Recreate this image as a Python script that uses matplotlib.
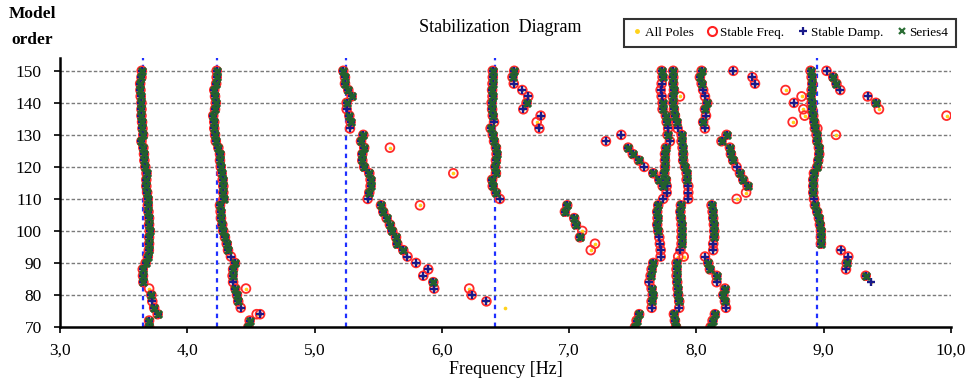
import matplotlib
matplotlib.use("Agg")
import matplotlib.pyplot as plt
from matplotlib.lines import Line2D

# ---------------- data ----------------
# status codes: 'x' = stable freq + damp + mode shape (Series4),
# '+' = stable freq + damp, 'o' = stable freq only, 'p' = stable damp only, 'a' = pole only
t1_orders = [150, 148, 146, 144, 142, 140, 138, 136, 134, 132, 130, 128, 126, 124, 122, 120, 118, 116, 114, 112,
             110, 108, 106, 104, 102, 100, 98, 96, 94, 92, 90, 88, 86, 84, 82, 80, 78, 76, 74, 72, 70]
t1_freqs = [3.642, 3.640, 3.630, 3.632, 3.634, 3.640, 3.640, 3.640, 3.645, 3.648,
            3.654, 3.640, 3.655, 3.660, 3.663, 3.670, 3.680, 3.678, 3.678, 3.685,
            3.690, 3.690, 3.695, 3.700, 3.700, 3.705, 3.700, 3.700, 3.698, 3.690,
            3.673, 3.650, 3.652, 3.655, 3.700, 3.718, 3.725, 3.740, 3.767, 3.700, 3.700]
t1_status = "xxxxxxxxxxxxxxxxxxxxxxxxxxxxxxxxxxox+xxxx"

t2_orders = [150, 148, 146, 144, 142, 140, 138, 136, 134, 132, 130, 128, 126, 124, 122, 120, 118, 116, 114, 112,
             110, 108, 106, 104, 102, 100, 98, 96, 94, 92, 90, 88, 86, 84, 82, 80, 78, 76, 72, 70]
t2_freqs = [4.231, 4.231, 4.227, 4.212, 4.218, 4.224, 4.218, 4.204, 4.212, 4.212,
            4.218, 4.224, 4.244, 4.257, 4.257, 4.263, 4.270, 4.278, 4.283, 4.283,
            4.285, 4.257, 4.262, 4.265, 4.275, 4.283, 4.296, 4.310, 4.320, 4.343,
            4.375, 4.360, 4.356, 4.360, 4.378, 4.390, 4.400, 4.420, 4.490, 4.480]
t2_status = "xxxxxxxxxxxxxxxxxxxxxxxxxxxxx+xxx+xxx+xx"

t3a_orders = [150, 148, 146, 144, 142, 140, 138, 136, 134, 132]
t3a_freqs = [5.226, 5.239, 5.239, 5.265, 5.291, 5.252, 5.252, 5.273, 5.283, 5.278]
t3a_status = "xxxxxx+xx+"

t3b_orders = [130, 128, 126, 124, 122, 120, 118, 116, 114, 112, 110]
t3b_freqs = [5.383, 5.365, 5.390, 5.375, 5.375, 5.390, 5.430, 5.440, 5.440, 5.430, 5.417]
t3b_status = "xxxxxxxxxx+"

t3c_orders = [108, 106, 104, 102, 100, 98, 96, 94, 92, 90, 88, 86, 84, 82, 80, 78]
t3c_freqs = [5.522, 5.540, 5.566, 5.592, 5.610, 5.640, 5.650, 5.697, 5.730, 5.797, 5.893, 5.854, 5.933, 5.940,
             6.234, 6.350]
t3c_status = "xxxxxxxx++++x+++"

t4_orders = [150, 148, 146, 144, 142, 140, 138, 136, 134, 132, 130, 128, 126, 124, 122, 120, 118, 116, 114, 112, 110]
t4_freqs = [6.400, 6.400, 6.398, 6.395, 6.398, 6.391, 6.395, 6.400, 6.410, 6.383,
            6.400, 6.410, 6.425, 6.430, 6.425, 6.420, 6.425, 6.395, 6.400, 6.425, 6.455]
t4_status = "xxxxxxxx+xxxxxxxxxxx+"

t4b_orders = [150, 148, 146, 144, 142, 140, 138, 136, 134, 132]
t4b_freqs = [6.569, 6.555, 6.565, 6.632, 6.679, 6.666, 6.640, 6.776, 6.745, 6.766]
t4b_status = "xx+++x++o+"

t5_orders = [108, 106, 104, 102, 100, 98, 96, 94]
t5_freqs = [6.985, 6.967, 7.040, 7.053, 7.103, 7.085, 7.203, 7.170]
t5_status = "xxxxoxoo"

t6_orders = [130, 128, 126, 124, 122, 120, 118, 116, 114]
t6_freqs = [7.410, 7.289, 7.464, 7.500, 7.548, 7.590, 7.661, 7.708, 7.735]
t6_status = "++xxx+xxx"

ta_orders = [150, 148, 146, 144, 142, 140, 138, 136, 134, 132, 130, 128, 126, 124, 122, 120, 118, 116, 114, 112,
             110, 108, 106, 104, 102, 100, 98, 96, 94, 92, 90, 88, 86, 84, 82, 80, 78, 76, 74, 72, 70]
ta_freqs = [7.727, 7.734, 7.727, 7.719, 7.727, 7.734, 7.734, 7.760, 7.766, 7.778,
            7.773, 7.792, 7.760, 7.753, 7.753, 7.753, 7.748, 7.760, 7.766, 7.766,
            7.739, 7.700, 7.692, 7.695, 7.692, 7.700, 7.708, 7.713, 7.719, 7.719,
            7.661, 7.648, 7.640, 7.630, 7.648, 7.656, 7.648, 7.648, 7.550, 7.530, 7.517]
ta_status = "xx+++xxxx+x+xxxxxx+++xxxxx++++xxx+xxx+xxx"

tb_orders = [150, 148, 146, 144, 142, 140, 138, 136, 134, 132, 130, 128, 126, 124, 122, 120, 118, 116, 114, 112,
             110, 108, 106, 104, 102, 100, 98, 96, 94, 92, 90, 88, 86, 84, 82, 80, 78, 76, 74, 72, 70]
tb_freqs = [7.818, 7.818, 7.818, 7.823, 7.813, 7.818, 7.823, 7.831, 7.844, 7.852,
            7.883, 7.883, 7.891, 7.896, 7.896, 7.910, 7.923, 7.923, 7.936, 7.936,
            7.936, 7.878, 7.874, 7.878, 7.883, 7.883, 7.883, 7.883, 7.874, 7.857,
            7.844, 7.844, 7.844, 7.849, 7.852, 7.857, 7.865, 7.865, 7.823, 7.831, 7.840]
tb_status = "xxxxxxxxx+xxxxxxxx+++xxxxxxx+oxxxxxxx+xxx"

tc_orders = [150, 148, 146, 144, 142, 140, 138, 136, 134, 132]
tc_freqs = [8.041, 8.027, 8.041, 8.053, 8.067, 8.085, 8.067, 8.075, 8.053, 8.067]
tc_status = "xxx++xx+x+"

tc2_orders = [108, 106, 104, 102, 100, 98, 96, 94, 92, 90, 88, 86, 84, 82, 80, 78, 76, 74, 72, 70]
tc2_freqs = [8.119, 8.127, 8.132, 8.137, 8.140, 8.140, 8.132, 8.132,
             8.067, 8.093, 8.106, 8.158, 8.158, 8.224, 8.211, 8.224, 8.232, 8.145, 8.127, 8.111]
tc2_status = "xxxxxx+++xxx+xxx+xxx"

td_orders = [130, 128, 126, 124, 122, 120, 118, 116, 114, 112, 110]
td_freqs = [8.237, 8.197, 8.263, 8.271, 8.289, 8.315, 8.342, 8.368, 8.402, 8.390, 8.316]
td_status = "xxxxx+xxxoo"

te_orders = [150, 148, 146, 144, 142, 140, 138, 136, 134, 132, 130, 128, 126, 124, 122, 120, 118, 116, 114, 112,
             110, 108, 106, 104, 102, 100, 98, 96]
te_freqs = [8.897, 8.905, 8.910, 8.905, 8.897, 8.905, 8.910, 8.918, 8.926, 8.931,
            8.944, 8.949, 8.962, 8.965, 8.957, 8.949, 8.923, 8.918, 8.918, 8.918,
            8.923, 8.931, 8.949, 8.962, 8.970, 8.978, 8.978, 8.978]
te_status = "xxxxxxxxxxxxxxxxxxxx+xxxxxxx"

tf_orders = [150, 148, 146, 144, 142, 140, 138]
tf_freqs = [9.022, 9.075, 9.100, 9.130, 9.345, 9.410, 9.434]
tf_status = "+xx++xo"

tg_orders = [94, 92, 90, 88, 86, 84]
tg_freqs = [9.135, 9.193, 9.180, 9.175, 9.330, 9.370]
tg_status = "++x+xp"

# scattered poles
sc_orders = [82, 74, 74, 126, 118, 108, 82, 76, 142, 92, 150, 148, 146, 144, 142, 140, 138, 136, 134, 132, 130, 136]
sc_freqs = [4.461, 4.545, 4.572, 5.592, 6.090, 5.828, 6.215, 6.496, 7.870, 7.900,
            8.290, 8.440, 8.460, 8.700, 8.826, 8.766, 8.840, 8.850, 8.756, 8.950, 9.096, 9.965]
sc_status = "o o + o o o o a o o + + + o o + o o o o o o".split()

mode_freqs = [3.65, 4.23, 5.25, 6.42, 8.95]

x_ticks = [3, 4, 5, 6, 7, 8, 9, 10]
x_tick_labels = ["3,0", "4,0", "5,0", "6,0", "7,0", "8,0", "9,0", "10,0"]
y_ticks = [70, 80, 90, 100, 110, 120, 130, 140, 150]

tracks = [
    (t1_orders, t1_freqs, t1_status), (t2_orders, t2_freqs, t2_status),
    (t3a_orders, t3a_freqs, t3a_status), (t3b_orders, t3b_freqs, t3b_status),
    (t3c_orders, t3c_freqs, t3c_status), (t4_orders, t4_freqs, t4_status),
    (t4b_orders, t4b_freqs, t4b_status), (t5_orders, t5_freqs, t5_status),
    (t6_orders, t6_freqs, t6_status), (ta_orders, ta_freqs, ta_status),
    (tb_orders, tb_freqs, tb_status), (tc_orders, tc_freqs, tc_status),
    (tc2_orders, tc2_freqs, tc2_status), (td_orders, td_freqs, td_status),
    (te_orders, te_freqs, te_status), (tf_orders, tf_freqs, tf_status),
    (tg_orders, tg_freqs, tg_status), (sc_orders, sc_freqs, sc_status),
]

allx, ally, sfx, sfy, sdx, sdy, s4x, s4y = [], [], [], [], [], [], [], []
for orders, freqs, status in tracks:
    for o, f, s in zip(orders, freqs, status):
        allx.append(f); ally.append(o)
        if s in "xo+":
            sfx.append(f); sfy.append(o)
        if s in "x+p":
            sdx.append(f); sdy.append(o)
        if s == "x":
            s4x.append(f); s4y.append(o)

# ---------------- plot ----------------
SERIF = ["Liberation Serif", "DejaVu Serif"]
plt.rcParams["font.family"] = SERIF

fig = plt.figure(figsize=(9.68, 3.84), dpi=100)
ax = fig.add_axes([60 / 968, 1 - 327 / 384, (951 - 60) / 968, (327 - 58) / 384])

for y in y_ticks:
    if y > 70:
        ax.axhline(y, color="#7a7a7a", lw=1.0, ls=(0, (2.5, 1.5)), zorder=1)
for f in mode_freqs:
    ax.axvline(f, color="#1f2fff", lw=1.6, ls=(0, (2, 2)), zorder=2)

ax.scatter(allx, ally, s=7, marker="o", color="#ffd21a", linewidths=0, zorder=3, label="All Poles")
ax.scatter(sfx, sfy, s=40, marker="o", facecolors="none", edgecolors="#ff2a2a", linewidths=1.3, zorder=4,
           label="Stable Freq.")
ax.scatter(sdx, sdy, s=34, marker="+", color="#1a1a8a", linewidths=1.7, zorder=5, label="Stable Damp.")
ax.scatter(s4x, s4y, s=26, marker="x", color="#23602d", linewidths=2.2, zorder=6, label="Series4")

ax.set_xlim(3, 10)
ax.set_ylim(70, 154)
ax.set_xticks(x_ticks)
ax.set_xticklabels(x_tick_labels)
ax.set_yticks(y_ticks)
for sp in ["top", "right"]:
    ax.spines[sp].set_visible(False)
for sp in ["left", "bottom"]:
    ax.spines[sp].set_linewidth(1.8)
    ax.spines[sp].set_zorder(7)
ax.tick_params(axis="both", direction="out", length=4, width=1.2, labelsize=12.5)
ax.tick_params(axis="x", pad=7)
ax.tick_params(axis="y", pad=9)

ax.set_xlabel("Frequency [Hz]", fontsize=13, labelpad=2)
fig.text(500 / 968, 1 - 28 / 384, "Stabilization  Diagram", ha="center", va="center", fontsize=13)
fig.text(32 / 968, 1 - 14 / 384, "Model", ha="center", va="center", fontsize=12.5, fontweight="bold")
fig.text(32 / 968, 1 - 40 / 384, "order", ha="center", va="center", fontsize=12.5, fontweight="bold")

handles = [
    Line2D([], [], ls="none", marker="o", ms=2.5, color="#ffd21a"),
    Line2D([], [], ls="none", marker="o", ms=6.5, mfc="none", mec="#ff2020", mew=1.5),
    Line2D([], [], ls="none", marker="+", ms=6, color="#1a1a8a", mew=1.6),
    Line2D([], [], ls="none", marker="x", ms=4.5, color="#2b6e35", mew=1.6),
]
labels = ["All Poles", "Stable Freq.", "Stable Damp.", "Series4"]
leg = fig.legend(handles, labels, ncol=4, loc="upper right", bbox_to_anchor=(963 / 968, 1 - 12 / 384),
                 fontsize=9.5, frameon=True, fancybox=False, edgecolor="black", handlelength=0.8,
                 handletextpad=0.2, columnspacing=1.0, borderpad=0.6)
leg.get_frame().set_linewidth(1.5)

fig.savefig("out.png", dpi=100)
